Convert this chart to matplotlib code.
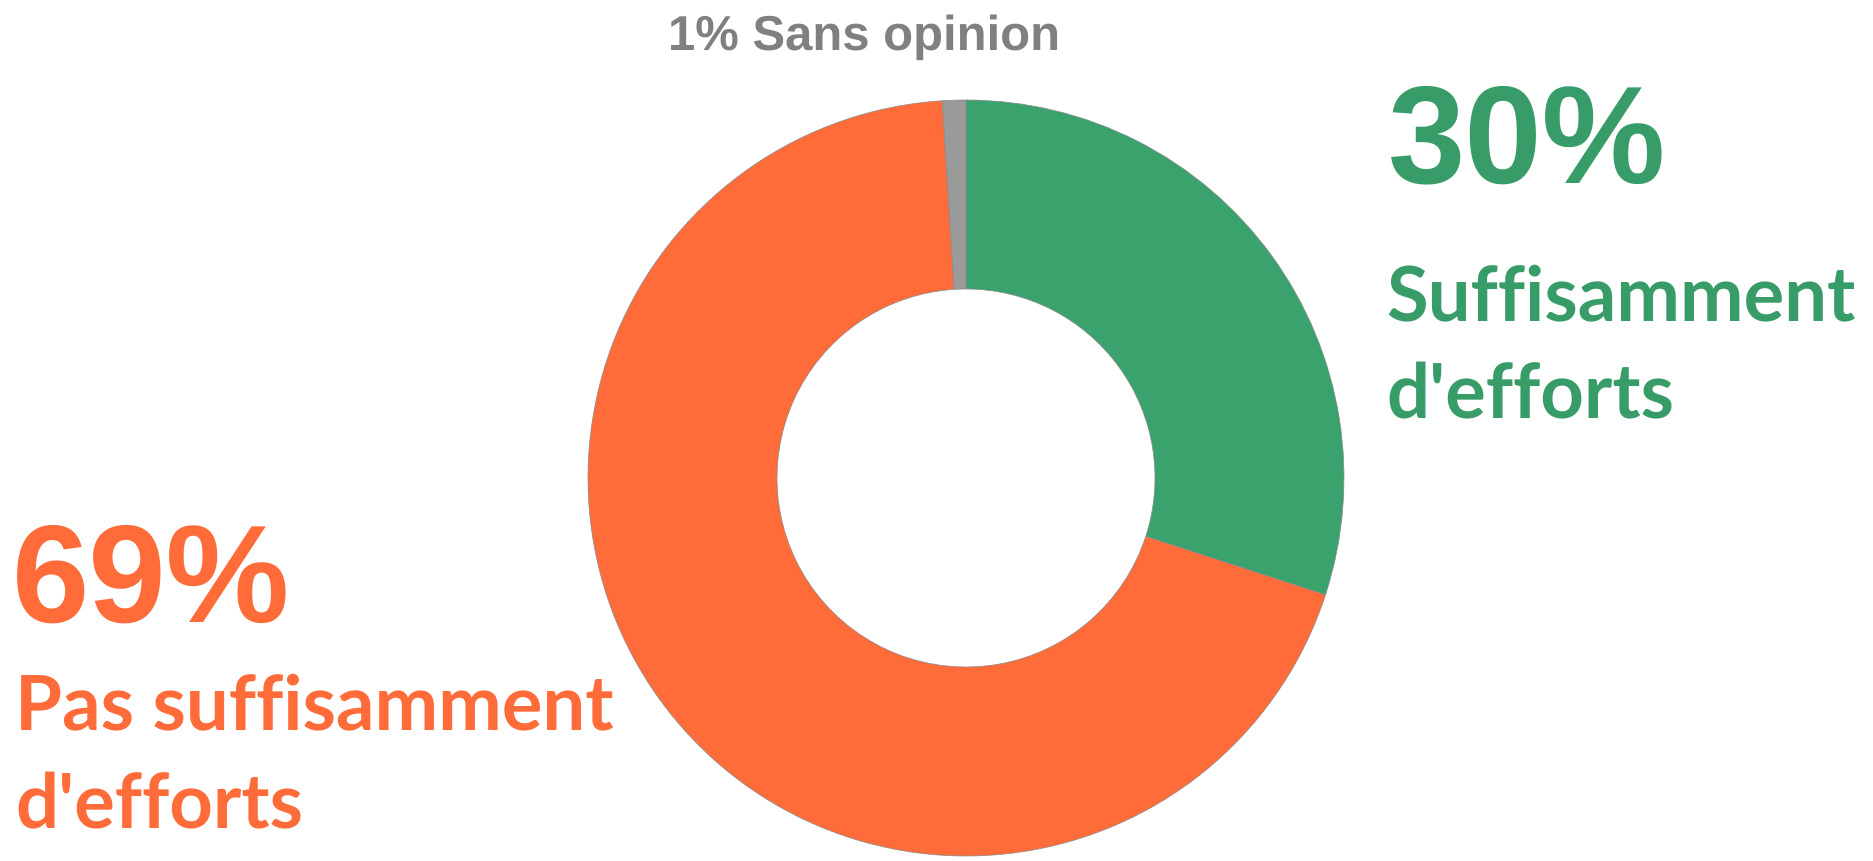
import matplotlib
matplotlib.use("Agg")
import matplotlib.pyplot as plt

# ---------------------------------------------------------------
# DATA
# ---------------------------------------------------------------
labels = ["Suffisamment d'efforts", "Pas suffisamment d'efforts", "Sans opinion"]
values = [30, 69, 1]
colors = ["#3AA26D", "#FF6B39", "#9A9A9A"]
text_colors = ["#389C68", "#FF6B39", "#808080"]

W, H = 1874, 861
DPI = 100

# big glyphs get mangled by the autohinter
plt.rcParams['text.hinting'] = 'no_hinting'
plt.rcParams['text.hinting_factor'] = 1

WORD_FONT = ['Lato', 'DejaVu Sans']
NUM_FONT = ['Liberation Sans', 'DejaVu Sans']

fig = plt.figure(figsize=(W / DPI, H / DPI), dpi=DPI)
fig.patch.set_facecolor("white")

# pie centre and radius in pixels
cx, cy, r = 966, 478, 378
ax = fig.add_axes([(cx - r) / W, (H - cy - r) / H, 2 * r / W, 2 * r / H])

wedges, _ = ax.pie(values, colors=colors, startangle=90, counterclock=False,
                   radius=1.0, wedgeprops=dict(width=0.5, edgecolor="#8A8A8A",
                                               linewidth=0.5))
ax.set_xlim(-1, 1)
ax.set_ylim(-1, 1)
ax.set_aspect("equal")
ax.axis("off")


def ptext(x, y, s, size, color, family, ha="left"):
    # x, y in pixels from top-left, y is the baseline
    fig.text(x / W, 1 - y / H, s, fontsize=size, color=color, ha=ha,
             va="baseline", fontweight="bold", family=family)


# right label (green)
ptext(1388, 182, "%d%%" % values[0], 100, text_colors[0], NUM_FONT)
ptext(1386, 320, "Suffisamment", 55, text_colors[0], WORD_FONT)
ptext(1386, 418, "d'efforts", 55, text_colors[0], WORD_FONT)

# left label (orange)
ptext(12, 622, "%d%%" % values[1], 100, text_colors[1], NUM_FONT)
ptext(15, 729, "Pas suffisamment", 55, text_colors[1], WORD_FONT)
ptext(15, 828, "d'efforts", 55, text_colors[1], WORD_FONT)

# top label (gray)
ptext(864, 50, "%d%% %s" % (values[2], labels[2]), 35, text_colors[2], NUM_FONT,
      ha="center")

fig.savefig("out.png", dpi=DPI, facecolor="white")
